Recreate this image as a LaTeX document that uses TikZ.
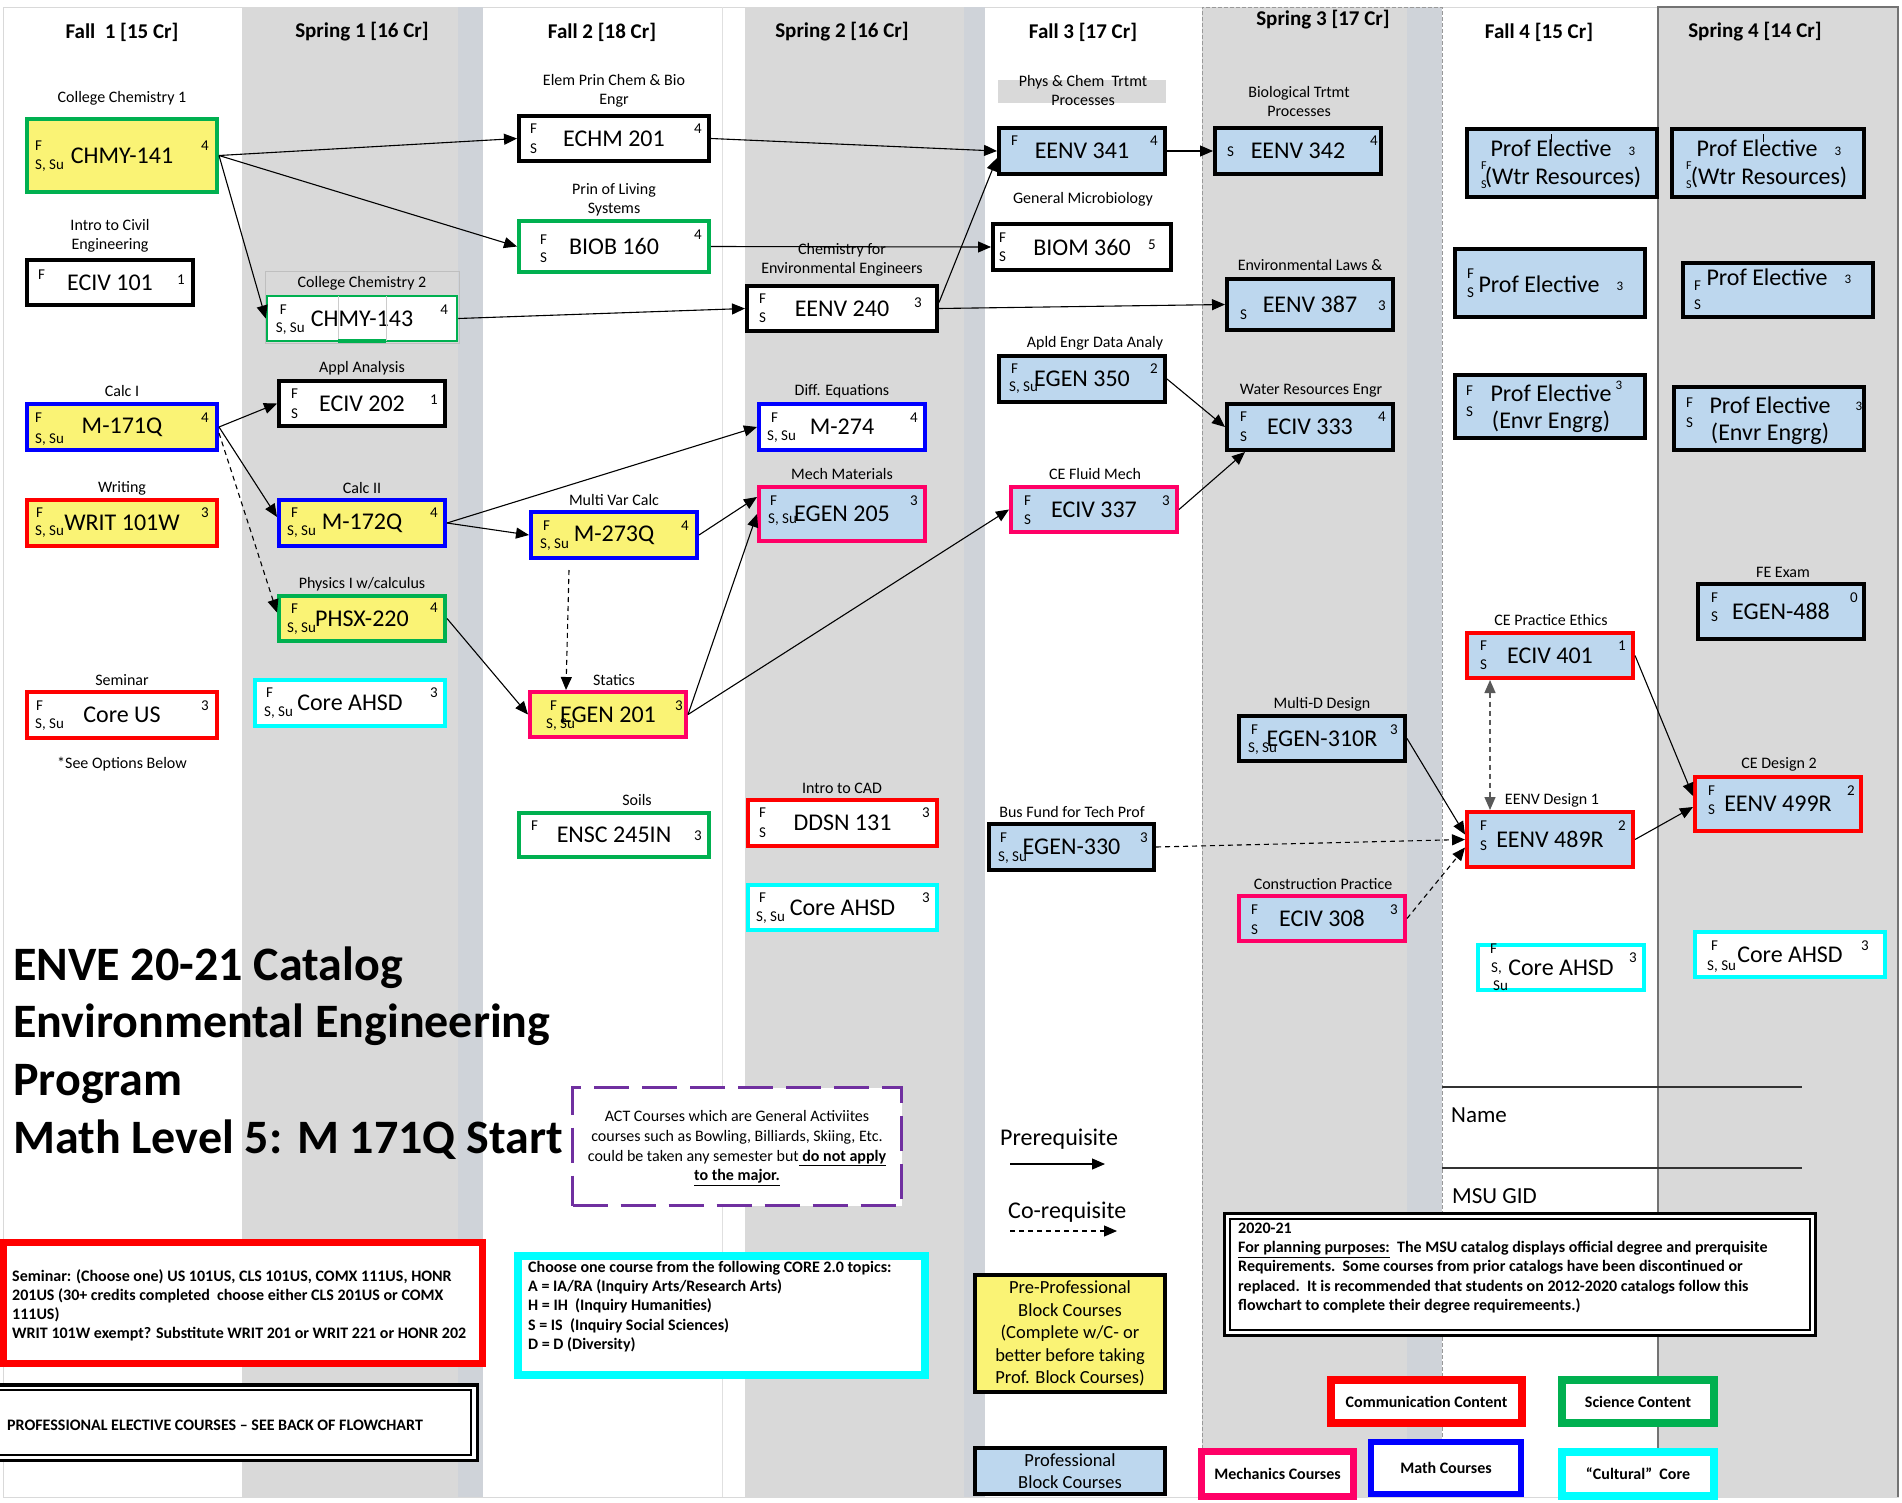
\documentclass[tikz,border=0pt]{standalone}
\usepackage{fontspec}
\setmainfont{Carlito}
\usetikzlibrary{arrows.meta}
\definecolor{cyel}{RGB}{250,243,117}
\definecolor{cblu}{RGB}{189,215,238}
\definecolor{cgray}{RGB}{217,217,217}
\definecolor{cstrip}{RGB}{207,211,217}
\definecolor{cgreen}{RGB}{0,176,80}
\definecolor{cblue}{RGB}{0,0,255}
\definecolor{cred}{RGB}{255,0,0}
\definecolor{cpink}{RGB}{255,0,102}
\definecolor{ccyan}{RGB}{0,255,255}
\definecolor{cpurp}{RGB}{112,48,160}
\newcommand{\crs}[7]{%
 \pgfmathsetmacro{\crsXc}{(#2+#4)/2}%
 \pgfmathsetmacro{\crsYc}{(#3+#5)/2}%
 \pgfmathsetmacro{\crsWd}{#4-#2-4}%
 \pgfmathsetmacro{\crsHt}{#5-#3-4}%
 \node[crs,#6,minimum width=\crsWd pt,minimum height=\crsHt pt] (#1) at (\crsXc,\crsYc) {#7};}
\newcommand{\wtxt}[5]{\node[smt,anchor=west] (#1-#2) at ([xshift=#3pt,yshift=#4pt]#1.west) {#5};}
\newcommand{\etxt}[4]{\node[smt] (#1-c) at ([xshift=-#2pt,yshift=#3pt]#1.east) {#4};}
\tikzset{
 crs/.style={draw, line width=4pt, inner sep=0pt, font=\fontsize{24}{28}\selectfont},
 smt/.style={inner sep=0pt, font=\fontsize{15}{17}\selectfont},
 tiny/.style={inner sep=0pt, anchor=west, font=\fontsize{12}{14}\selectfont},
 lbl/.style={inner sep=0pt, align=center, font=\fontsize{16}{19}\selectfont},
 hdr/.style={inner sep=0pt, font=\fontsize{21}{25}\selectfont\bfseries},
 pet/.style={inner sep=0pt, font=\fontsize{24}{28}\selectfont},
 ttl/.style={inner sep=0pt, anchor=base west, font=\fontsize{48}{58}\selectfont\bfseries},
 btxt/.style={inner sep=0pt, align=left, font=\fontsize{16}{19.3}\selectfont\bfseries},
 legb/.style={inner sep=0pt, font=\fontsize{16}{19}\selectfont\bfseries, fill=white},
 kG/.style={draw=cgreen}, kB/.style={draw=cblue}, kR/.style={draw=cred},
 kP/.style={draw=cpink}, kC/.style={draw=ccyan}, kK/.style={draw=black},
 fY/.style={fill=cyel}, fB/.style={fill=cblu}, fW/.style={fill=white},
 pre/.style={line width=1.1pt, -{Triangle[length=13pt,width=11pt]}},
 co/.style={pre, dash pattern=on 5pt off 4pt},
 co2/.style={line width=1.3pt, black!65, dash pattern=on 5pt off 4pt, {Triangle[length=13pt,width=11pt]}-{Triangle[length=13pt,width=11pt]}},
}
\begin{document}
\begin{tikzpicture}[x=1pt,y=-1pt]
\useasboundingbox (0,0) rectangle (1902,1502);
% ---------- background columns ----------
\fill[white] (0,0) rectangle (1902,1502);
\draw[black!15, line width=1pt] (3,7) rectangle (1898,1497);
\fill[cgray] (242,7) rectangle (483,1497);
\fill[cstrip] (458,7) rectangle (483,1497);
\draw[black!12, line width=1pt] (722,7) -- (722,1497);
\fill[cgray] (745,7) rectangle (985,1497);
\fill[cstrip] (964,7) rectangle (985,1497);
\fill[cgray] (1202,7) rectangle (1442,1497);
\fill[cstrip] (1407,7) rectangle (1442,1497);
\draw[black!40, line width=1pt, dash pattern=on 4pt off 2pt] (1202,1497) -- (1202,7) -- (1442,7) -- (1442,1497);
\fill[cgray] (1658,7) rectangle (1898,1497);
\draw[black!55, line width=1.5pt] (1658,1497) -- (1658,7) -- (1898,7) -- (1898,1497);
% ---------- headers ----------
\node[hdr] (h1) at (122,32) {Fall\ \ 1 [15 Cr]};
\node[hdr] (h2) at (362,32) {Spring 1 [16 Cr]};
\node[hdr] (h3) at (602,32) {Fall 2 [18 Cr]};
\node[hdr] (h4) at (842,32) {Spring 2 [16 Cr]};
\node[hdr] (h5) at (1083,32) {Fall 3 [17 Cr]};
\node[hdr] (h6) at (1323,20) {Spring 3 [17 Cr]};
\node[hdr] (h7) at (1539,32) {Fall 4 [15 Cr]};
\node[hdr] (h8) at (1755,32) {Spring 4 [14 Cr]};
% ---------- labels ----------
\fill[cgray] (998,80) rectangle (1166,103);
\node[lbl] (l1) at (122,98) {College Chemistry 1};
\node[lbl] (l2) at (110,236) {Intro to Civil\\Engineering};
\node[lbl] (l3) at (122,391) {Calc I};
\node[lbl] (l4) at (122,488) {Writing};
\node[lbl] (l5) at (122,680) {Seminar};
\node[lbl] (l6) at (122,764) {*See Options Below};
\node[lbl] (l7) at (362,283) {College Chemistry 2};
\node[lbl] (l8) at (362,368) {Appl Analysis};
\node[lbl] (l9) at (362,488) {Calc II};
\node[lbl] (l10) at (362,584) {Physics I w/calculus};
\node[lbl] (l11) at (614,91) {Elem Prin Chem \& Bio\\Engr};
\node[lbl] (l12) at (614,200) {Prin of Living\\Systems};
\node[lbl] (l13) at (614,500) {Multi Var Calc};
\node[lbl] (l14) at (614,680) {Statics};
\node[lbl] (l15) at (637,800) {Soils};
\node[lbl] (l16) at (842,260) {Chemistry for\\Environmental Engineers};
\node[lbl] (l17) at (842,391) {Diff. Equations};
\node[lbl] (l18) at (842,474) {Mech Materials};
\node[lbl] (l19) at (842,788) {Intro to CAD};
\node[lbl] (l20) at (1083,91) {Phys \& Chem\ \ Trtmt\\Processes};
\node[lbl] (l21) at (1083,199) {General Microbiology};
\node[lbl] (l22) at (1095,343) {Apld Engr Data Analy};
\node[lbl] (l23) at (1095,474) {CE Fluid Mech};
\node[lbl] (l24) at (1072,812) {Bus Fund for Tech Prof};
\node[lbl] (l25) at (1299,102) {Biological Trtmt\\Processes};
\node[lbl] (l26) at (1310,265) {Environmental Laws \&};
\node[lbl] (l27) at (1311,391) {Water Resources Engr};
\node[lbl] (l28) at (1322,704) {Multi-D Design};
\node[lbl] (l29) at (1323,884) {Construction Practice};
\node[lbl] (l30) at (1551,620) {CE Practice Ethics};
\node[lbl] (l31) at (1552,800) {EENV Design 1};
\node[lbl] (l32) at (1783,572) {FE Exam};
\node[lbl] (l33) at (1779,764) {CE Design 2};
% ---------- CHMY-143 table artefacts ----------
\draw[black!25, line width=0.8pt] (265,271) rectangle (459,343);
% ---------- courses: Fall 1 ----------
\crs{chmy141}{25}{117}{219}{194}{kG,fY}{CHMY-141}
\wtxt{chmy141}{f}{10}{9.5}{F}\wtxt{chmy141}{s}{10}{-10.5}{S, Su}\etxt{chmy141}{14}{9.5}{4}
\crs{eciv101}{25}{258}{195}{307}{kK,fW}{ECIV 101}
\wtxt{eciv101}{f}{13}{8}{F}\etxt{eciv101}{14}{2.5}{1}
\crs{m171q}{25}{402}{219}{452}{kB,fY}{M-171Q}
\wtxt{m171q}{f}{10}{9}{F}\wtxt{m171q}{s}{10}{-13}{S, Su}\etxt{m171q}{14}{9}{4}
\crs{writ101w}{25}{498}{219}{548}{kR,fY}{WRIT 101W}
\wtxt{writ101w}{f}{11}{10}{F}\wtxt{writ101w}{s}{10}{-9}{S, Su}\etxt{writ101w}{14}{10}{3}
\crs{coreus}{25}{690}{219}{740}{kR,fW}{Core US}
\wtxt{coreus}{f}{11}{9}{F}\wtxt{coreus}{s}{10}{-10}{S, Su}\etxt{coreus}{14}{9}{3}
% ---------- Spring 1 ----------
\crs{chmy143}{265}{294}{459}{343}{kG,fW,line width=2.5pt}{CHMY-143}
\draw[black!20, line width=0.8pt] (338,296) -- (338,341) (386,296) -- (386,341);
\draw[cgreen, line width=3.5pt] (338,341) -- (386,341);
\wtxt{chmy143}{f}{14}{8.5}{F}\wtxt{chmy143}{s}{10}{-10.5}{S, Su}\etxt{chmy143}{14}{8.5}{4}
\crs{eciv202}{277}{379}{447}{428}{kK,fW}{ECIV 202}
\wtxt{eciv202}{f}{14}{9.5}{F}\wtxt{eciv202}{s}{14}{-10.5}{S}\etxt{eciv202}{13}{3.5}{1}
\crs{m172q}{277}{498}{447}{548}{kB,fY}{M-172Q}
\wtxt{m172q}{f}{14}{10}{F}\wtxt{m172q}{s}{10}{-9}{S, Su}\etxt{m172q}{13}{10}{4}
\crs{phsx220}{277}{594}{447}{643}{kG,fY}{PHSX-220}
\wtxt{phsx220}{f}{14}{9.5}{F}\wtxt{phsx220}{s}{10}{-10.5}{S, Su}\etxt{phsx220}{13}{10.5}{4}
\crs{ahsd1}{253}{678}{447}{728}{kC,fW}{Core AHSD}
\wtxt{ahsd1}{f}{13}{10}{F}\wtxt{ahsd1}{s}{11}{-10}{S, Su}\etxt{ahsd1}{13}{10}{3}
% ---------- Fall 2 ----------
\crs{echm201}{517}{114}{711}{163}{kK,fW}{ECHM 201}
\wtxt{echm201}{f}{13}{9.5}{F}\wtxt{echm201}{s}{13}{-10.5}{S}\etxt{echm201}{13}{9.5}{4}
\crs{biob160}{517}{219}{711}{274}{kG,fW}{BIOB 160}
\wtxt{biob160}{f}{23}{6.5}{F}\wtxt{biob160}{s}{23}{-11.5}{S}\etxt{biob160}{13}{11.5}{4}
\crs{m273q}{529}{510}{699}{560}{kB,fY}{M-273Q}
\wtxt{m273q}{f}{14}{9}{F}\wtxt{m273q}{s}{11}{-10}{S, Su}\etxt{m273q}{14}{9}{4}
\crs{egen201}{528}{690}{688}{739}{kP,fY}{EGEN 201}
\wtxt{egen201}{f}{22}{8.5}{F}\wtxt{egen201}{s}{18}{-10.5}{S, Su}\etxt{egen201}{9}{8.5}{3}
\crs{ensc245}{517}{811}{711}{859}{kG,fW}{ENSC 245IN}
\wtxt{ensc245}{f}{14}{9}{F}\etxt{ensc245}{13}{-1}{3}
% ---------- Spring 2 ----------
\crs{eenv240}{745}{284}{939}{333}{kK,fW}{EENV 240}
\wtxt{eenv240}{f}{14}{9.5}{F}\wtxt{eenv240}{s}{14}{-9.5}{S}\etxt{eenv240}{21}{5.5}{3}
\crs{m274}{757}{402}{927}{452}{kB,fW}{M-274}
\wtxt{m274}{f}{14}{9}{F}\wtxt{m274}{s}{10}{-10}{S, Su}\etxt{m274}{13}{9}{4}
\crs{egen205}{757}{485}{927}{543}{kP,fB}{EGEN 205}
\wtxt{egen205}{f}{13}{13}{F}\wtxt{egen205}{s}{11}{-6}{S, Su}\etxt{egen205}{13}{13}{3}
\crs{ddsn131}{746}{798}{939}{848}{kR,fW}{DDSN 131}
\wtxt{ddsn131}{f}{13}{10}{F}\wtxt{ddsn131}{s}{13}{-10}{S}\etxt{ddsn131}{13}{10}{3}
\crs{ahsd2}{746}{883}{939}{932}{kC,fW}{Core AHSD}
\wtxt{ahsd2}{f}{13}{9.5}{F}\wtxt{ahsd2}{s}{10}{-10.5}{S, Su}\etxt{ahsd2}{13}{9.5}{3}
% ---------- Fall 3 ----------
\crs{eenv341}{997}{126}{1167}{176}{kK,fB}{EENV 341}
\wtxt{eenv341}{f}{14}{10}{F}\etxt{eenv341}{13}{10}{4}
\crs{biom360}{991}{222}{1173}{272}{kK,fW}{BIOM 360}
\wtxt{biom360}{f}{8}{9}{F}\wtxt{biom360}{s}{8}{-10}{S}\etxt{biom360}{21}{2}{5}
\crs{egen350}{997}{354}{1167}{404}{kK,fB}{EGEN 350}
\wtxt{egen350}{f}{14}{10}{F}\wtxt{egen350}{s}{12}{-9}{S, Su}\etxt{egen350}{13}{10}{2}
\crs{eciv337}{1009}{485}{1179}{534}{kP,fB}{ECIV 337}
\wtxt{eciv337}{f}{15}{8.5}{F}\wtxt{eciv337}{s}{15}{-10.5}{S}\etxt{eciv337}{13}{8.5}{3}
\crs{egen330}{987}{822}{1156}{872}{kK,fB}{EGEN-330}
\wtxt{egen330}{f}{13}{9}{F}\wtxt{egen330}{s}{11}{-11}{S, Su}\etxt{egen330}{12}{9}{3}
% ---------- Spring 3 ----------
\crs{eenv342}{1213}{126}{1383}{176}{kK,fB}{EENV 342}
\wtxt{eenv342}{s}{14}{-1}{S}\etxt{eenv342}{9}{10}{4}
\crs{eenv387}{1225}{277}{1395}{332}{kK,fB}{EENV 387}
\wtxt{eenv387}{s}{15}{-10.5}{S}\etxt{eenv387}{13}{-1.5}{3}
\crs{eciv333}{1225}{402}{1395}{452}{kK,fB}{ECIV 333}
\wtxt{eciv333}{f}{15}{10}{F}\wtxt{eciv333}{s}{15}{-10}{S}\etxt{eciv333}{13}{10}{4}
\crs{egen310r}{1237}{714}{1407}{763}{kK,fB}{EGEN-310R}
\wtxt{egen310r}{f}{14}{8.5}{F}\wtxt{egen310r}{s}{11}{-10}{S, Su}\etxt{egen310r}{13}{8.5}{3}
\crs{eciv308}{1237}{894}{1407}{943}{kP,fB}{ECIV 308}
\wtxt{eciv308}{f}{14}{8.5}{F}\wtxt{eciv308}{s}{14}{-11.5}{S}\etxt{eciv308}{13}{8.5}{3}
% ---------- Fall 4 ----------
\crs{pe1}{1465}{127}{1659}{199}{kK,fB}{}
\node[pet] (pe1-a) at (1551,148) {Prof Elective};
\node[pet] (pe1-b) at (1563,177) {(Wtr Resources)};
\node[tiny] (pe1-f) at (1481,166) {F};
\node[tiny] (pe1-s) at (1481,185) {S};
\node[smt,font=\fontsize{13}{15}\selectfont] (pe1-c) at (1632,151) {3};
\draw[line width=1pt] (1551,134) -- (1551,142);
\crs{pe3}{1453}{247}{1647}{319}{kK,fB}{}
\node[pet] (pe3-a) at (1539,284) {Prof Elective};
\node[smt,anchor=west] (pe3-f) at (1467,274) {F};
\node[smt,anchor=west] (pe3-s) at (1467,293) {S};
\node[smt,font=\fontsize{13}{15}\selectfont] (pe3-c) at (1620,286) {3};
\crs{pe5}{1453}{373}{1647}{440}{kK,fB}{}
\node[pet] (pe5-a) at (1551,393) {Prof Elective};
\node[pet] (pe5-b) at (1551,422) {(Envr Engrg)};
\node[smt,anchor=west] (pe5-f) at (1466,391) {F};
\node[smt,anchor=west] (pe5-s) at (1466,412) {S};
\node[smt,font=\fontsize{13}{15}\selectfont] (pe5-c) at (1619,385) {3};
\crs{eciv401}{1465}{631}{1635}{680}{kR,fB}{ECIV 401}
\wtxt{eciv401}{f}{15}{9.5}{F}\wtxt{eciv401}{s}{15}{-9.5}{S}\etxt{eciv401}{13}{9.5}{1}
\crs{eenv489r}{1465}{810}{1635}{869}{kR,fB}{EENV 489R}
\wtxt{eenv489r}{f}{15}{13.5}{F}\wtxt{eenv489r}{s}{15}{-6.5}{S}\etxt{eenv489r}{13}{13.5}{2}
\crs{ahsd3}{1476}{943}{1646}{992}{kC,fW}{Core AHSD}
\wtxt{ahsd3}{f}{14}{18.5}{F}\wtxt{ahsd3}{s}{15}{-1.5}{S,}\wtxt{ahsd3}{u}{17}{-18}{Su}\etxt{ahsd3}{13}{9.5}{3}
% ---------- Spring 4 ----------
\crs{pe2}{1670}{127}{1866}{199}{kK,fB}{}
\node[pet] (pe2-a) at (1757,148) {Prof Elective};
\node[pet] (pe2-b) at (1769,177) {(Wtr Resources)};
\node[tiny] (pe2-f) at (1686,166) {F};
\node[tiny] (pe2-s) at (1686,185) {S};
\node[smt,font=\fontsize{13}{15}\selectfont] (pe2-c) at (1838,151) {3};
\draw[line width=1pt] (1763,134) -- (1763,142);
\crs{pe4}{1681}{261}{1875}{319}{kK,fB}{}
\node[pet] (pe4-a) at (1767,277) {Prof Elective};
\node[smt,anchor=west] (pe4-f) at (1694,286) {F};
\node[smt,anchor=west] (pe4-s) at (1694,305) {S};
\node[smt,font=\fontsize{13}{15}\selectfont] (pe4-c) at (1848,279) {3};
\crs{pe6}{1672}{385}{1866}{452}{kK,fB}{}
\node[pet] (pe6-a) at (1770,405) {Prof Elective};
\node[pet] (pe6-b) at (1770,434) {(Envr Engrg)};
\node[smt,anchor=west] (pe6-f) at (1686,403) {F};
\node[smt,anchor=west] (pe6-s) at (1686,423) {S};
\node[smt,font=\fontsize{13}{15}\selectfont] (pe6-c) at (1859,406) {3};
\crs{egen488}{1696}{582}{1866}{641}{kK,fB}{EGEN-488}
\wtxt{egen488}{f}{15}{13.5}{F}\wtxt{egen488}{s}{15}{-5.5}{S}\etxt{egen488}{12}{13.5}{0}
\crs{eenv499r}{1693}{775}{1863}{833}{kR,fB}{EENV 499R}
\wtxt{eenv499r}{f}{15}{13}{F}\wtxt{eenv499r}{s}{15}{-6}{S}\etxt{eenv499r}{12}{13}{2}
\crs{ahsd4}{1693}{930}{1887}{979}{kC,fW}{Core AHSD}
\wtxt{ahsd4}{f}{18}{8.5}{F}\wtxt{ahsd4}{s}{14}{-12.5}{S, Su}\etxt{ahsd4}{22}{8.5}{3}
% ---------- connectors ----------
\draw[pre] (chmy141.east) -- (echm201.west);
\draw[pre] (chmy141.east) -- (biob160.west);
\draw[pre] (chmy141.east) -- (chmy143.west);
\draw[pre] (chmy143.east) -- (eenv240.west);
\draw[pre] (echm201.east) -- (eenv341.west);
\draw[pre] (biob160.east) -- (biom360.west);
\draw[pre] ([yshift=6pt]eenv240.east) -- ([yshift=-7pt]eenv341.west);
\draw[pre] (eenv240.east) -- (eenv387.west);
\draw[pre] (eenv341.east) -- (eenv342.west);
\draw[pre] (egen350.east) -- (eciv333.west);
\draw[pre] (eciv337.east) -- ([xshift=20pt]eciv333.south west);
\draw[pre] (m171q.east) -- (eciv202.west);
\draw[pre] (m171q.east) -- ([yshift=6pt]m172q.west);
\draw[co] ([yshift=-6pt]m171q.east) -- ([yshift=6pt]phsx220.west);
\draw[pre] (m172q.east) -- (m274.west);
\draw[pre] (m172q.east) -- (m273q.west);
\draw[pre] (phsx220.east) -- (egen201.west);
\draw[pre] (m273q.east) -- ([yshift=17pt]egen205.west);
\draw[pre] (egen201.east) -- (egen205.west);
\draw[pre] (egen201.east) -- (eciv337.west);
\draw[co] ([xshift=-45pt,yshift=-10pt]m273q.south) -- ([xshift=38pt]egen201.north west);
\draw[co] (egen330.east) -- (eenv489r.west);
\draw[pre] (egen310r.east) -- ([yshift=5pt]eenv489r.west);
\draw[co] (eciv308.east) -- ([yshift=-8pt]eenv489r.west);
\draw[co2] ([xshift=25pt]eciv401.south west) -- ([xshift=25pt]eenv489r.north west);
\draw[pre] (eciv401.east) -- ([yshift=8pt]eenv499r.west);
\draw[pre] (eenv489r.east) -- ([yshift=-3pt]eenv499r.west);
% ---------- title ----------
\node[ttl] (t1) at (13,980) {ENVE 20-21 Catalog};
\node[ttl] (t2) at (13,1037) {Environmental Engineering};
\node[ttl] (t3) at (13,1095) {Program};
\node[ttl] (t4) at (13,1153) {Math Level 5: M 171Q Start};
% ---------- ACT box ----------
\node[draw=cpurp, line width=3.5pt, dash pattern=on 35pt off 13pt, fill=white, minimum width=329pt, minimum height=118pt, inner sep=0pt] (act) at (737,1146.5) {};
\node[inner sep=0pt, align=center, font=\fontsize{16}{19.8}\selectfont] (actt) at (737,1148) {ACT Courses which are General Activiites\\courses such as Bowling, Billiards, Skiing, Etc.\\could be taken any semester but\underline{\textbf{ do not apply}}\\\underline{\textbf{to the major.}}};
% ---------- legend ----------
\node[inner sep=0pt, anchor=base west, font=\fontsize{24}{28}\selectfont] (prq) at (1000,1145) {Prerequisite};
\coordinate (pa) at (1010,1164);
\coordinate (pb) at (1105,1164);
\draw[pre] (pa) -- (pb);
\node[inner sep=0pt, anchor=base west, font=\fontsize{24}{28}\selectfont] (corq) at (1008,1218) {Co-requisite};
\coordinate (ca) at (1010,1231);
\coordinate (cb) at (1117,1231);
\draw[co] (ca) -- (cb);
\node[draw, line width=4pt, fill=cyel, minimum width=190pt, minimum height=117pt, inner sep=0pt, align=center, font=\fontsize{18.5}{22.5}\selectfont] (preprof) at (1070,1333.5) {Pre-Professional\\Block Courses\\(Complete w/C- or\\better before taking\\Prof. Block Courses)};
\node[draw, line width=4pt, fill=cblu, minimum width=190pt, minimum height=46pt, inner sep=0pt, align=center, font=\fontsize{18.5}{22}\selectfont] (profblk) at (1070,1471) {Professional\\Block Courses};
% ---------- name lines ----------
\draw[black!80, line width=1.2pt] (1442,1087) -- (1802,1087);
\draw[black!80, line width=1.2pt] (1442,1168) -- (1802,1168);
\node[inner sep=0pt, anchor=base west, font=\fontsize{23}{27}\selectfont] (nm) at (1451,1122) {Name};
\node[inner sep=0pt, anchor=base west, font=\fontsize{23}{27}\selectfont] (gid) at (1452,1203) {MSU GID};
% ---------- note box ----------
\fill[white] (1223,1212) rectangle (1817,1337);
\draw[line width=3pt] (1224.5,1213.5) rectangle (1815.5,1335.5);
\draw[line width=1.8pt] (1230,1219) rectangle (1810,1330);
\node[btxt, anchor=west] (note) at (1238,1268) {2020-21\\\underline{For planning purposes:}\ \ The MSU catalog displays official degree and prerquisite\\Requirements.\ \ Some courses from prior catalogs have been discontinued or\\replaced.\ \ It is recommended that students on 2012-2020 catalogs follow this\\flowchart to complete their degree requiremeents.)};
% ---------- colour legend ----------
\node[legb, draw=cred, line width=8pt, minimum width=191pt, minimum height=43pt] (lcomm) at (1426.5,1401.5) {Communication Content};
\node[legb, draw=cgreen, line width=8pt, minimum width=152pt, minimum height=43pt] (lsci) at (1638,1401.5) {Science Content};
\node[legb, draw=cpink, line width=7pt, minimum width=152pt, minimum height=45pt] (lmech) at (1277.5,1474) {Mechanics Courses};
\node[legb, draw=cblue, line width=6pt, minimum width=150pt, minimum height=52pt] (lmath) at (1446,1468) {Math Courses};
\node[legb, draw=ccyan, line width=8pt, minimum width=152pt, minimum height=44pt] (lcult) at (1638,1474) {“Cultural”\ \ Core};
% ---------- CORE box ----------
\node[draw=ccyan, line width=8pt, fill=white, minimum width=407pt, minimum height=119pt, inner sep=0pt] (corebox) at (721.5,1315.5) {};
\node[btxt, anchor=west] (coret) at (528,1306.5) {Choose one course from the following CORE 2.0 topics:\\A = IA/RA (Inquiry Arts/Research Arts)\\H = IH\ \ (Inquiry Humanities)\\S = IS\ \ (Inquiry Social Sciences)\\D = D (Diversity)};
% ---------- Seminar box ----------
\node[draw=cred, line width=7pt, fill=white, minimum width=479pt, minimum height=121pt, inner sep=0pt] (sembox) at (243,1303) {};
\node[btxt, anchor=west, font=\fontsize{16}{19}\selectfont\bfseries] (semt) at (12,1305) {Seminar: (Choose one) US 101US, CLS 101US, COMX 111US, HONR\\201US (30+ credits completed\ \ choose either CLS 201US or COMX\\111US)\\WRIT 101W exempt? Substitute WRIT 201 or WRIT 221 or HONR 202};
% ---------- Professional elective box ----------
\fill[white] (-10,1383) rectangle (479,1462);
\draw[line width=3.5pt] (-10,1384.75) -- (477.25,1384.75) -- (477.25,1460.25) -- (-10,1460.25);
\draw[line width=1.5pt] (-10,1390) -- (471,1390) -- (471,1455) -- (-10,1455);
\node[btxt, anchor=west] (pet) at (7,1425) {PROFESSIONAL ELECTIVE COURSES -- SEE BACK OF FLOWCHART};
\end{tikzpicture}
\end{document}
